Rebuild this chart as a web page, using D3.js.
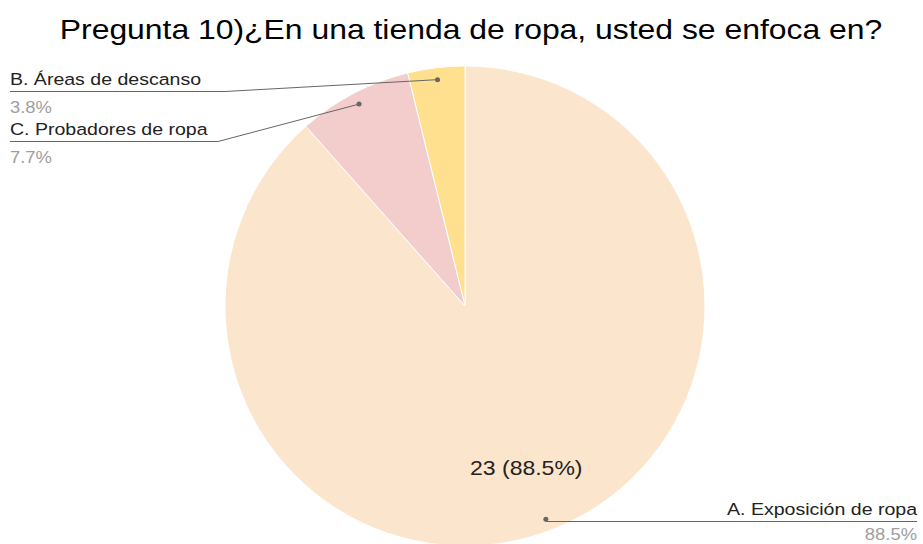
<!DOCTYPE html>
<html lang="es">
<head>
  <meta charset="utf-8">
  <title>Pregunta 10</title>
  <script src="https://cdn.jsdelivr.net/npm/d3@7"></script>
  <style>
    body { margin: 0; background: #fff; }
    text { font-family: Arial, "Liberation Sans", sans-serif; }
  </style>
</head>
<body>
  <script>
  // datos de la encuesta
  var categories = ["A. Exposición de ropa", "B. Áreas de descanso", "C. Probadores de ropa"];
  var counts = [23, 1, 2];
  var colors = ["#fce5cd", "#ffe08f", "#f3cccc"];

  var width = 923, height = 544;
  var cx = 465, cy = 306, radius = 240;
  var stretch = 1.15; // el texto del original aparece ensanchado

  var total = d3.sum(counts);
  var data = categories.map((c, i) => ({ name: c, value: counts[i], color: colors[i] }));
  var fmt = d3.format(".1%");

  var svg = d3.select("body").append("svg")
    .attr("width", width)
    .attr("height", height);

  svg.append("text")
    .attr("transform", `translate(${471},${39}) scale(1.16,1)`)
    .attr("text-anchor", "middle")
    .attr("font-size", 27.5)
    .attr("fill", "#000")
    .text("Pregunta 10)¿En una tienda de ropa, usted se enfoca en?");

  var pie = d3.pie().value(d => d.value).sort((a, b) => b.value - a.value);
  var arcs = pie(data);
  var arc = d3.arc().innerRadius(0).outerRadius(radius);
  var dotArc = d3.arc().innerRadius(radius * 0.95).outerRadius(radius * 0.95);
  var innerArc = d3.arc().innerRadius(radius * 0.72).outerRadius(radius * 0.72);

  var g = svg.append("g").attr("transform", `translate(${cx},${cy})`);

  g.selectAll("path")
    .data(arcs)
    .enter().append("path")
    .attr("d", arc)
    .attr("fill", d => d.data.color)
    .attr("stroke", "#fff")
    .attr("stroke-width", 1);

  // texto dentro de la porción grande
  arcs.filter(d => d.value / total > 0.5).forEach(d => {
    var p = innerArc.centroid(d);
    g.append("text")
      .attr("transform", `translate(${p[0]},${p[1] + 7}) scale(${stretch},1)`)
      .attr("text-anchor", "middle")
      .attr("font-size", 20)
      .attr("fill", "#222")
      .text(`${d.value} (${fmt(d.value / total)})`);
  });

  // posiciones de las etiquetas exteriores
  var labelPos = {
    "A. Exposición de ropa": { x: 917, y: 515, anchor: "end", elbow: null },
    "B. Áreas de descanso": { x: 10, y: 85, anchor: "start", elbow: 225 },
    "C. Probadores de ropa": { x: 10, y: 135, anchor: "start", elbow: 218 }
  };

  arcs.forEach(d => {
    var lp = labelPos[d.data.name];
    var c = dotArc.centroid(d);
    var dot = [cx + c[0], cy + c[1]];
    var lineY = lp.y + 6.5;
    var pts;
    if (lp.anchor === "start") {
      pts = [[lp.x, lineY], [lp.elbow, lineY], dot];
    } else {
      pts = [[lp.x, lineY], [dot[0], lineY], dot];
    }
    svg.append("path")
      .attr("d", d3.line()(pts))
      .attr("fill", "none")
      .attr("stroke", "#666")
      .attr("stroke-width", 1);
    svg.append("circle")
      .attr("cx", dot[0])
      .attr("cy", dot[1])
      .attr("r", 2.5)
      .attr("fill", "#666");

    svg.append("text")
      .attr("transform", `translate(${lp.x},${lp.y}) scale(${stretch},1)`)
      .attr("text-anchor", lp.anchor)
      .attr("font-size", 17)
      .attr("fill", "#222")
      .text(d.data.name);
    svg.append("text")
      .attr("transform", `translate(${lp.x},${lp.y + (lp.anchor === "end" ? 25 : 28)}) scale(${stretch},1)`)
      .attr("text-anchor", lp.anchor)
      .attr("font-size", 16)
      .attr("fill", "#9e9e9e")
      .text(fmt(d.value / total));
  });
  </script>
</body>
</html>
